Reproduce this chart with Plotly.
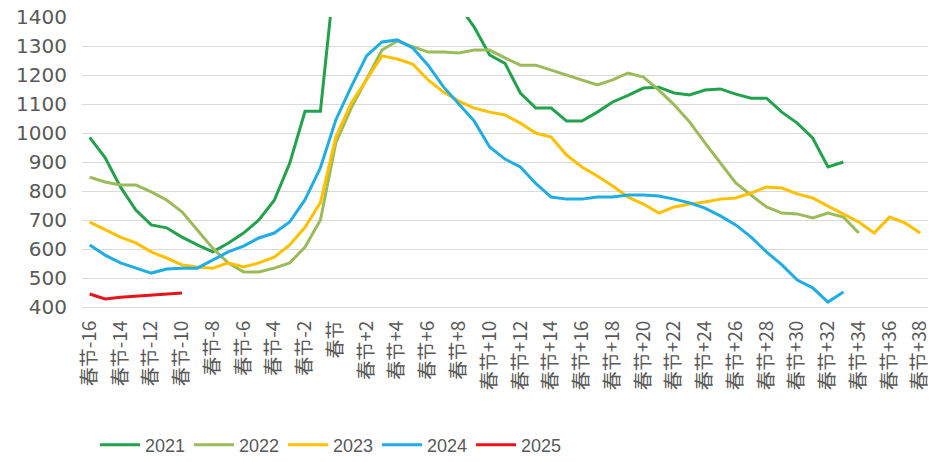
import plotly.graph_objects as go

offsets = list(range(-16, 39))
categories = [("春节" if k == 0 else ("春节+%d" % k if k > 0 else "春节%d" % k)) for k in offsets]
tick_labels = categories[::2]

y2021 = [985, 915, 814, 734, 683, 673, 641, 614, 590, 620,
         655, 700, 768, 895, 1075, 1075, 1580, 1750, 1880, 1950,
         1900, 1800, 1700, 1580, 1440, 1365, 1269, 1240, 1138, 1086,
         1086, 1041, 1041, 1072, 1107, 1130, 1155, 1158, 1138, 1131,
         1148, 1152, 1134, 1120, 1120, 1072, 1034, 983, 883, 900]
y2022 = [848, 831, 821, 821, 797, 769, 728, 666, 603, 552,
         521, 521, 534, 552, 607, 700, 966, 1086, 1188, 1286,
         1317, 1297, 1279, 1279, 1276, 1286, 1286, 1259, 1234, 1234,
         1217, 1200, 1183, 1166, 1183, 1207, 1193, 1148, 1097, 1038,
         966, 897, 828, 786, 745, 724, 721, 707, 724, 710, 655]
y2023 = [693, 666, 641, 621, 590, 569, 545, 538, 534, 552,
         538, 552, 572, 614, 675, 760, 985, 1103, 1186, 1266,
         1255, 1238, 1183, 1141, 1110, 1086, 1072, 1062, 1034, 1000,
         986, 924, 883, 852, 817, 779, 755, 724, 745, 755,
         762, 772, 776, 793, 814, 810, 790, 776, 748, 721,
         693, 655, 710, 690, 655]
y2024 = [614, 579, 552, 534, 517, 531, 534, 534, 562, 590,
         610, 638, 655, 693, 770, 880, 1045, 1159, 1266, 1314,
         1321, 1293, 1234, 1159, 1100, 1041, 952, 910, 883, 826,
         779, 772, 772, 779, 779, 786, 786, 783, 772, 759,
         741, 714, 683, 641, 590, 545, 493, 466, 417, 452]
y2025 = [445, 428, 434, 438, 441, 445, 448]

series = [
    ("2021", y2021, "#22A24C"),
    ("2022", y2022, "#9BBB59"),
    ("2023", y2023, "#FFC000"),
    ("2024", y2024, "#1FADE6"),
    ("2025", y2025, "#E8141B"),
]

fig = go.Figure()
for name, vals, color in series:
    fig.add_trace(go.Scatter(
        x=categories[:len(vals)], y=vals, name=name, mode="lines",
        line=dict(color=color, width=3),
        cliponaxis=True,
    ))

fig.update_layout(
    width=933, height=462,
    margin=dict(l=82, r=5, t=17, b=155, autoexpand=False),
    paper_bgcolor="white", plot_bgcolor="white",
    showlegend=True,
    legend=dict(
        orientation="h", x=0.0154, xanchor="left", y=-0.476, yanchor="middle",
        font=dict(family="Liberation Sans", size=18, color="#595959"),
        itemwidth=40, entrywidth=39, entrywidthmode="pixels",
        traceorder="normal",
    ),
)
fig.update_xaxes(
    type="category", categoryorder="array", categoryarray=categories,
    range=[-0.5, len(categories) - 0.5],
    tickmode="array", tickvals=tick_labels, ticktext=tick_labels,
    tickangle=-90, tickfont=dict(family="Noto Sans CJK SC", size=19, color="#595959"),
    showgrid=False, showline=True, linecolor="#D9D9D9", linewidth=1,
    ticks="", ticklabelstandoff=5, automargin=False, ticklabeloverflow="allow",
)
fig.update_yaxes(
    range=[400, 1400], tickmode="array",
    tickvals=[400, 500, 600, 700, 800, 900, 1000, 1100, 1200, 1300, 1400],
    tickfont=dict(family="DejaVu Sans", size=20, color="#595959"),
    showgrid=True, gridcolor="#D9D9D9", gridwidth=1,
    zeroline=False, showline=False, ticks="", ticklabelstandoff=14, automargin=False,
    ticklabeloverflow="allow",
)

fig.write_html(
    "out.html",
    config={"displayModeBar": False},
    post_script="document.body.style.margin='0';document.body.style.overflow='hidden';",
)
